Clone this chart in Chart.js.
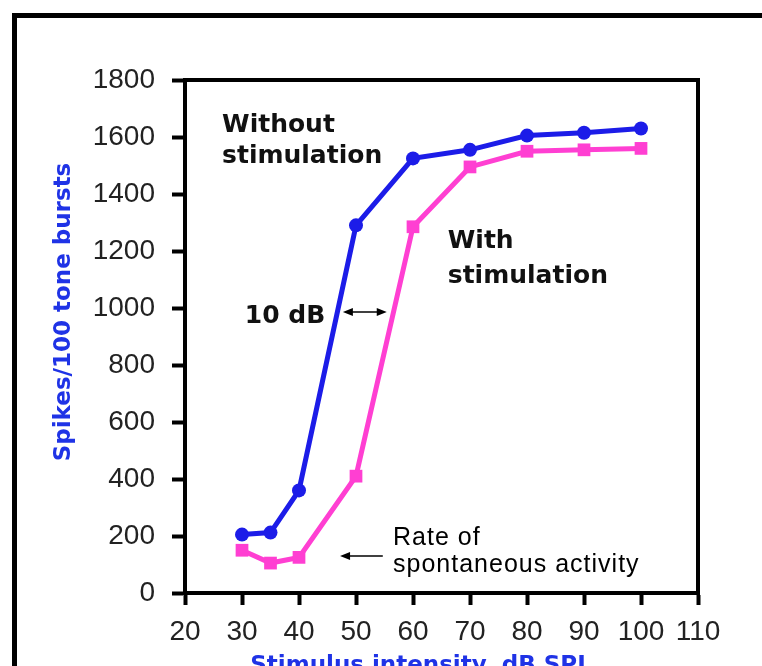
<!DOCTYPE html>
<html><head><meta charset="utf-8">
<script src="https://cdn.jsdelivr.net/npm/chart.js@4.4.1/dist/chart.umd.min.js"></script>
<style>
html,body{margin:0;padding:0;background:#fff;overflow:hidden}
#wrap{position:relative;width:762px;height:666px;overflow:hidden}
#frame{position:absolute;left:12px;top:13px;width:820px;height:720px;border:5px solid #000;box-sizing:border-box;pointer-events:none}
canvas{position:absolute;left:0;top:0}
</style></head>
<body><div id="wrap"><canvas id="c" width="762" height="666"></canvas><div id="frame"></div></div>
<script>
// ---- data ----
const intensities = [30, 35, 40, 50, 60, 70, 80, 90, 100];
const withoutStim = [205, 212, 360, 1290, 1525, 1555, 1605, 1615, 1630];
const withStim    = [150, 105, 125, 410, 1285, 1495, 1550, 1555, 1560];
const xTickValues = [20, 30, 40, 50, 60, 70, 80, 90, 100, 110];
const yTickValues = [0, 200, 400, 600, 800, 1000, 1200, 1400, 1600, 1800];
const xTitle = 'Stimulus intensity, dB SPL';
const yTitle = 'Spikes/100 tone bursts';
const seriesNames = ['Without stimulation', 'With stimulation'];

const BLUE = '#1c1ce8';
const PINK = '#ff3fd2';
const TITLE_BLUE = '#1f33e6';

const toPts = (xs, ys) => xs.map((x, i) => ({x, y: ys[i]}));

const annotations = {
  id: 'annotations',
  beforeDatasetsDraw(chart) {
    const {ctx, chartArea: a} = chart;
    ctx.save();
    ctx.strokeStyle = '#000';
    ctx.lineWidth = 4;
    ctx.strokeRect(a.left, a.top, a.right - a.left, a.bottom - a.top);
    ctx.restore();
  },
  afterDraw(chart) {
    const {ctx, scales: {x, y}} = chart;
    const px = v => x.getPixelForValue(v);
    const py = v => y.getPixelForValue(v);
    ctx.save();
    ctx.textAlign = 'left';
    ctx.textBaseline = 'alphabetic';
    // curve labels
    ctx.fillStyle = '#111';
    ctx.font = 'bold 25px "DejaVu Sans"';
    ctx.fillText('Without', px(26.5), py(1617));
    ctx.fillText('stimulation', px(26.5), py(1509));
    ctx.fillText('With', px(66.1), py(1210));
    ctx.fillText('stimulation', px(66.1), py(1088));
    ctx.fillText('10 dB', px(30.5), py(947));
    // spontaneous activity note
    ctx.fillStyle = '#000';
    ctx.font = '25px "Liberation Sans"';
    ctx.letterSpacing = '1px';
    ctx.fillText('Rate of', px(56.5), py(168));
    ctx.fillText('spontaneous activity', px(56.5), py(74));
    ctx.letterSpacing = '0px';
    // arrows
    const head = (xTip, yv, dir) => {
      ctx.beginPath();
      ctx.moveTo(xTip, yv);
      ctx.lineTo(xTip + dir * 10, yv - 4);
      ctx.lineTo(xTip + dir * 10, yv + 4);
      ctx.closePath();
      ctx.fill();
    };
    ctx.strokeStyle = '#000';
    ctx.fillStyle = '#000';
    ctx.lineWidth = 1.5;
    let yA = py(986), x1 = px(47.7), x2 = px(55.4);
    ctx.beginPath(); ctx.moveTo(x1 + 4, yA); ctx.lineTo(x2 - 4, yA); ctx.stroke();
    head(x1, yA, 1); head(x2, yA, -1);
    yA = py(130); x1 = px(47.2); x2 = px(54.7);
    ctx.beginPath(); ctx.moveTo(x1 + 4, yA); ctx.lineTo(x2, yA); ctx.stroke();
    head(x1, yA, 1);
    // axis titles
    ctx.fillStyle = TITLE_BLUE;
    ctx.font = 'bold 23px "DejaVu Sans"';
    ctx.textAlign = 'center';
    ctx.fillText(xTitle, 421, 672);
    ctx.translate(64, 312);
    ctx.rotate(-Math.PI / 2);
    ctx.textBaseline = 'middle';
    ctx.fillText(yTitle, 0, 0);
    ctx.restore();
  }
};

new Chart(document.getElementById('c'), {
  type: 'line',
  data: {
    datasets: [
      {
        label: seriesNames[0],
        data: toPts(intensities, withoutStim),
        borderColor: BLUE, backgroundColor: BLUE,
        borderWidth: 5, pointStyle: 'circle', pointRadius: 7,
        pointBorderWidth: 0, tension: 0
      },
      {
        label: seriesNames[1],
        data: toPts(intensities, withStim),
        borderColor: PINK, backgroundColor: PINK,
        borderWidth: 5, pointStyle: 'rect', pointRadius: 9,
        pointBorderWidth: 0, tension: 0
      }
    ]
  },
  options: {
    responsive: false,
    devicePixelRatio: 1,
    animation: false,
    layout: {padding: {top: 80, right: 64, bottom: 0, left: 0}},
    plugins: {legend: {display: false}, tooltip: {enabled: false}},
    scales: {
      x: {
        type: 'linear', min: 20, max: 110,
        afterBuildTicks: s => { s.ticks = xTickValues.map(v => ({value: v})); },
        afterFit: s => { s.height = 73; },
        ticks: {font: {family: 'Liberation Sans', size: 28}, color: '#222', padding: 10, maxRotation: 0, autoSkip: false,
                callback: v => String(v)},
        grid: {drawOnChartArea: false, drawTicks: true, tickLength: 12, tickWidth: 4, tickColor: '#000'},
        border: {display: true, color: '#000', width: 4}
      },
      y: {
        min: 0, max: 1800,
        afterBuildTicks: s => { s.ticks = yTickValues.map(v => ({value: v})); },
        afterFit: s => { s.width = 185; },
        ticks: {font: {family: 'Liberation Sans', size: 28}, color: '#222', padding: 17, autoSkip: false,
                callback: v => String(v)},
        grid: {drawOnChartArea: false, drawTicks: true, tickLength: 13, tickWidth: 4, tickColor: '#000'},
        border: {display: true, color: '#000', width: 4}
      }
    }
  },
  plugins: [annotations]
});
</script>
</body></html>
